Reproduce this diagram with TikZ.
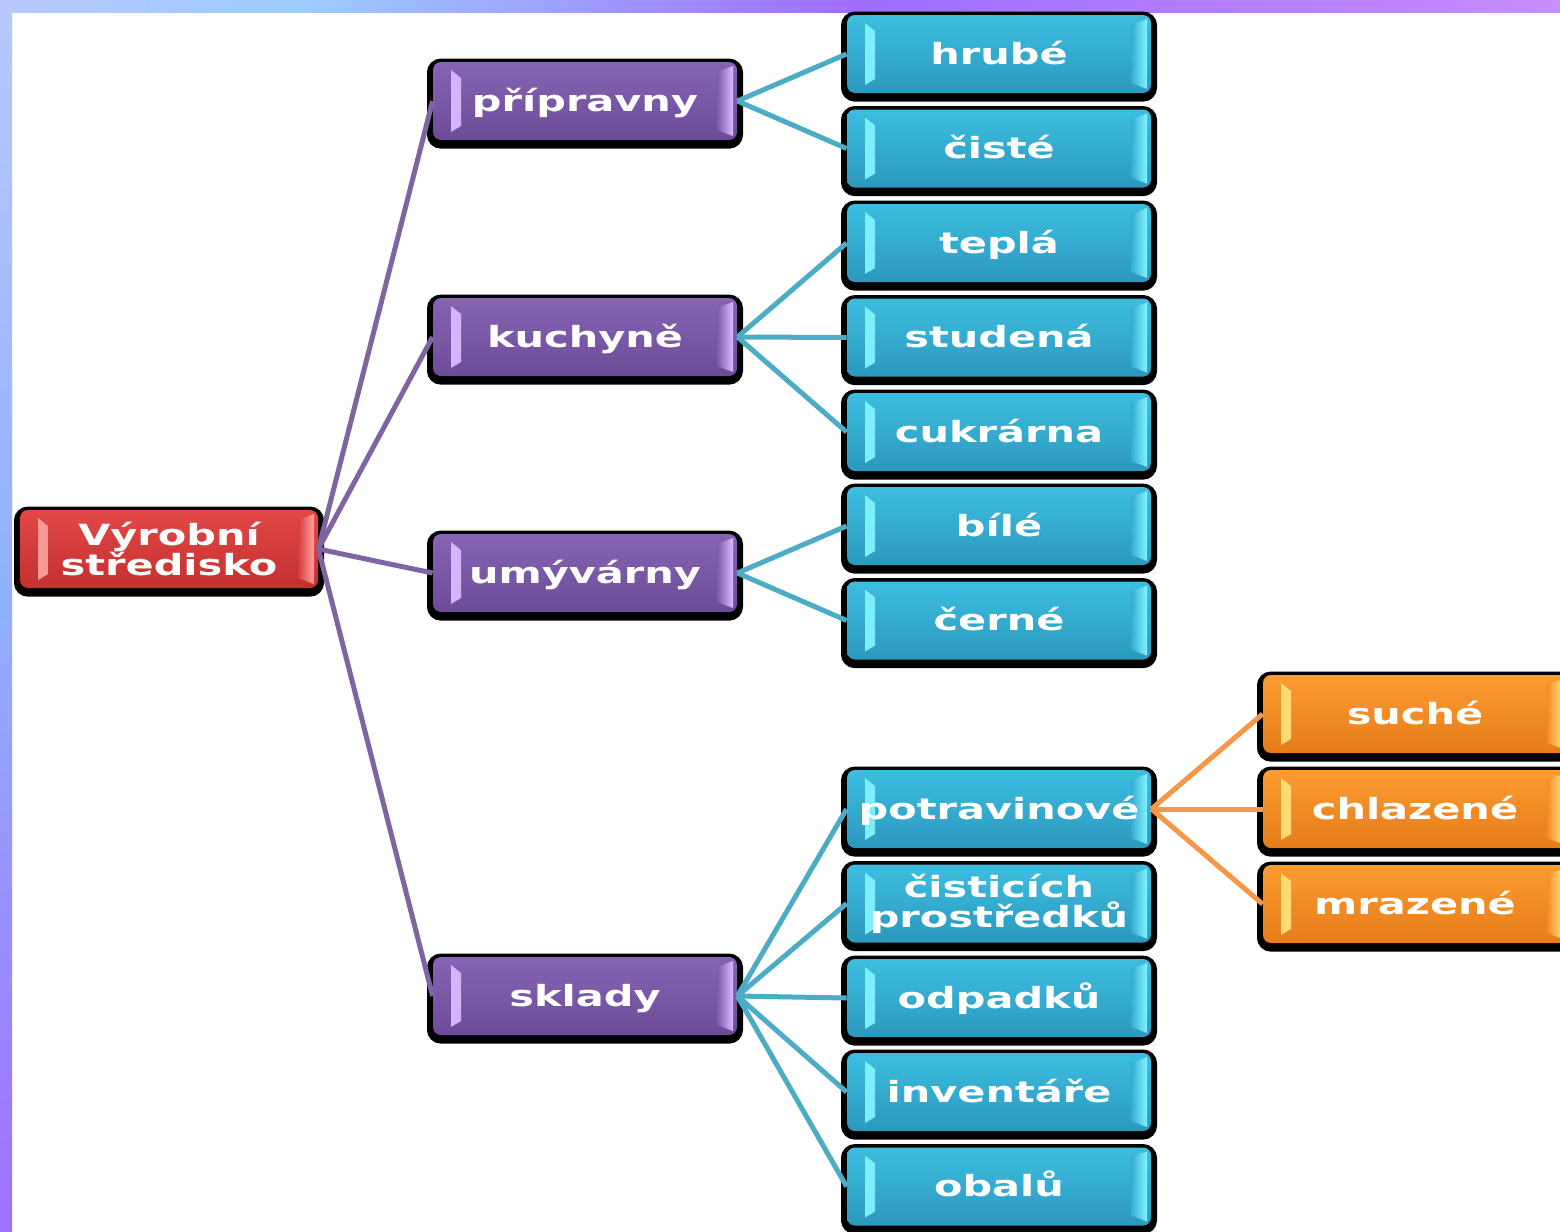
\documentclass[tikz,border=0pt]{standalone}
\usepackage{fontspec}
\newfontfamily\boxfont[FakeStretch=1.42]{DejaVu Sans}
\definecolor{lnpurple}{HTML}{8064A2}
\definecolor{lnblue}{HTML}{4BACC6}
\definecolor{lnorange}{HTML}{F79646}
\tikzset{
  barcolor/.code={\colorlet{barc}{#1}},
  midcolor/.code={\colorlet{midc}{#1}},
  box/.style={rounded corners=4pt, minimum width=152pt, minimum height=39pt,
    inner sep=0pt, align=center, text=white, text height=13pt, text depth=3pt,
    font=\boxfont\bfseries\fontsize{14.6}{15}\selectfont,
    preaction={fill=black, draw=black, line width=6pt, transform canvas={yshift=-1.3pt}},
    path picture={
      \shade[sharp corners, left color=barc, right color=midc]
        ([xshift=9pt,yshift=-4pt]path picture bounding box.north west)
        -- ([xshift=14pt,yshift=-8pt]path picture bounding box.north west)
        -- ([xshift=14pt,yshift=7pt]path picture bounding box.south west)
        -- ([xshift=9pt,yshift=4pt]path picture bounding box.south west) -- cycle;
      \shade[sharp corners, left color=midc, right color=barc]
        ([xshift=-10pt,yshift=-5pt]path picture bounding box.north east)
        -- ([xshift=-2pt,yshift=-2pt]path picture bounding box.north east)
        -- ([xshift=-2pt,yshift=2pt]path picture bounding box.south east)
        -- ([xshift=-10pt,yshift=5pt]path picture bounding box.south east) -- cycle;
    }},
  twoline/.style={text height={}, text depth={}},
  redbox/.style={box, minimum width=149pt, top color={rgb,255:red,226;green,72;blue,70},
    bottom color={rgb,255:red,196;green,48;blue,48}, barcolor={rgb,255:red,255;green,160;blue,160},
    midcolor={rgb,255:red,214;green,60;blue,60}},
  purplebox/.style={box, top color={rgb,255:red,134;green,100;blue,180},
    bottom color={rgb,255:red,108;green,76;blue,152}, barcolor={rgb,255:red,222;green,186;blue,255},
    midcolor={rgb,255:red,124;green,90;blue,168}},
  bluebox/.style={box, top color={rgb,255:red,60;green,190;blue,224},
    bottom color={rgb,255:red,44;green,152;blue,190}, barcolor={rgb,255:red,130;green,244;blue,255},
    midcolor={rgb,255:red,52;green,172;blue,208}},
  orangebox/.style={box, top color={rgb,255:red,252;green,156;blue,50},
    bottom color={rgb,255:red,230;green,124;blue,24}, barcolor={rgb,255:red,255;green,226;blue,120},
    midcolor={rgb,255:red,244;green,140;blue,36}},
  pline/.style={draw=lnpurple, line width=2.5pt},
  bline/.style={draw=lnblue, line width=2.5pt},
  oline/.style={draw=lnorange, line width=2.5pt},
}
\begin{document}
\begin{tikzpicture}[x=0.5pt, y=-0.5pt]
\useasboundingbox (0,0) rectangle (1560,1232);
\fill[white] (0,0) rectangle (1560,1232);
% frame bands
\fill[left color={rgb,255:red,184;green,200;blue,255}, right color={rgb,255:red,156;green,205;blue,255}] (0,0) rectangle (300,12);
\fill[left color={rgb,255:red,156;green,205;blue,255}, right color={rgb,255:red,160;green,108;blue,255}] (299,0) rectangle (860,12);
\fill[left color={rgb,255:red,160;green,108;blue,255}, right color={rgb,255:red,198;green,142;blue,255}] (859,0) rectangle (1560,12);
\fill[top color={rgb,255:red,184;green,200;blue,255}, bottom color={rgb,255:red,144;green,176;blue,255}] (0,0) rectangle (12,600);
\fill[top color={rgb,255:red,144;green,176;blue,255}, bottom color={rgb,255:red,160;green,112;blue,255}] (0,599) rectangle (12,1232);

% nodes
\node[redbox, twoline] (root) at (169,549) {Výrobní\\středisko};
\node[purplebox] (prip) at (585,101) {přípravny};
\node[purplebox] (kuch) at (585,337) {kuchyně};
\node[purplebox] (umyv) at (585,573) {umývárny};
\node[purplebox] (skl) at (585,996) {sklady};

\node[bluebox] (hrube) at (999,54) {hrubé};
\node[bluebox] (ciste) at (999,148.5) {čisté};
\node[bluebox] (tepla) at (999,243) {teplá};
\node[bluebox] (stud) at (999,337.5) {studená};
\node[bluebox] (cukr) at (999,432) {cukrárna};
\node[bluebox] (bile) at (999,526) {bílé};
\node[bluebox] (cerne) at (999,620.5) {černé};

\node[bluebox] (potr) at (999,809) {potravinové};
\node[bluebox, twoline] (cist) at (999,903.5) {čisticích\\prostředků};
\node[bluebox] (odp) at (999,998) {odpadků};
\node[bluebox] (inv) at (999,1092) {inventáře};
\node[bluebox] (obal) at (999,1186.5) {obalů};

\node[orangebox] (such) at (1415,714) {suché};
\node[orangebox] (chlaz) at (1415,809) {chlazené};
\node[orangebox] (mraz) at (1415,904) {mrazené};

% connectors
\foreach \t in {prip,kuch,umyv,skl} \draw[pline] (root.east) -- (\t.west);
\foreach \t in {hrube,ciste} \draw[bline] (prip.east) -- (\t.west);
\foreach \t in {tepla,stud,cukr} \draw[bline] (kuch.east) -- (\t.west);
\foreach \t in {bile,cerne} \draw[bline] (umyv.east) -- (\t.west);
\foreach \t in {potr,cist,odp,inv,obal} \draw[bline] (skl.east) -- (\t.west);
\foreach \t in {such,chlaz,mraz} \draw[oline] (potr.east) -- (\t.west);
\end{tikzpicture}
\end{document}
